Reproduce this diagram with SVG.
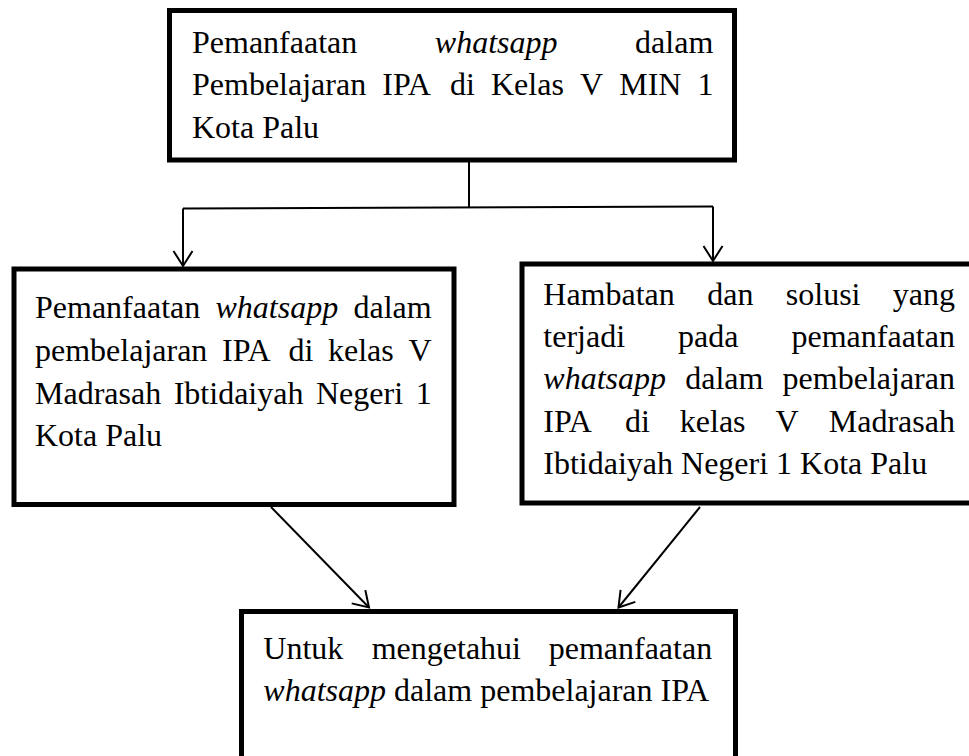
<svg xmlns="http://www.w3.org/2000/svg" width="969" height="756" viewBox="0 0 969 756">
<style>
.box{fill:#fff;stroke:#000;stroke-width:5}
.t{font-family:"Liberation Serif","Times New Roman",serif;font-size:32px;fill:#000}
.i{font-style:italic}
.c{fill:none;stroke:#000;stroke-width:2}
</style>
<defs>
<marker id="arr" markerUnits="userSpaceOnUse" markerWidth="40" markerHeight="40" viewBox="-20 -20 40 40" refX="0" refY="0" orient="auto">
<path d="M-15,-9.5 L0,0 L-15,9.5" fill="none" stroke="#000" stroke-width="2"/>
</marker>
</defs>
<rect width="969" height="756" fill="#fff"/>
<g id="connectors">
<path class="c" d="M469,162 L469,207.5"/>
<path class="c" d="M183,208.5 L713,206.5"/>
<path class="c" d="M183,208.5 L183,266" marker-end="url(#arr)"/>
<path class="c" d="M713,206.5 L713,261" marker-end="url(#arr)"/>
<path class="c" d="M271,507 L369,607.5" marker-end="url(#arr)"/>
<path class="c" d="M700,507 L618.5,607.5" marker-end="url(#arr)"/>
</g>
<g id="node-top">
<rect class="box" x="169.5" y="10.5" width="565" height="149.5"/>
<text class="t" y="52.5"><tspan x="192">Pemanfaatan</tspan><tspan x="434.8" class="i">whatsapp</tspan><tspan x="635.1">dalam</tspan></text>
<text class="t" y="95"><tspan x="192">Pembelajaran</tspan><tspan x="382.3">IPA</tspan><tspan x="450">di</tspan><tspan x="491">Kelas</tspan><tspan x="580">V</tspan><tspan x="619.2">MIN</tspan><tspan x="697.5">1</tspan></text>
<text class="t" x="192" y="137.5">Kota Palu</text>
</g>
<g id="node-left">
<rect class="box" x="14" y="269" width="440" height="235.5"/>
<text class="t" y="318"><tspan x="35">Pemanfaatan</tspan><tspan x="215.5" class="i">whatsapp</tspan><tspan x="353.5">dalam</tspan></text>
<text class="t" y="360.8"><tspan x="35">pembelajaran</tspan><tspan x="222.1">IPA</tspan><tspan x="288.4">di</tspan><tspan x="328">kelas</tspan><tspan x="408.6">V</tspan></text>
<text class="t" y="403.6"><tspan x="35">Madrasah</tspan><tspan x="173.7">Ibtidaiyah</tspan><tspan x="316">Negeri</tspan><tspan x="415.7">1</tspan></text>
<text class="t" x="35" y="446.4">Kota Palu</text>
</g>
<g id="node-right">
<rect class="box" x="522" y="264" width="460" height="239"/>
<text class="t" y="304.5"><tspan x="543.3">Hambatan</tspan><tspan x="707.2">dan</tspan><tspan x="785.8">solusi</tspan><tspan x="892.8">yang</tspan></text>
<text class="t" y="346.9"><tspan x="543.3">terjadi</tspan><tspan x="678.1">pada</tspan><tspan x="791.5">pemanfaatan</tspan></text>
<text class="t" y="389.3"><tspan x="543.3" class="i">whatsapp</tspan><tspan x="685.2">dalam</tspan><tspan x="782.6">pembelajaran</tspan></text>
<text class="t" y="431.7"><tspan x="543.3">IPA</tspan><tspan x="624.9">di</tspan><tspan x="679.8">kelas</tspan><tspan x="775.6">V</tspan><tspan x="828.8">Madrasah</tspan></text>
<text class="t" x="543.3" y="474.1">Ibtidaiyah Negeri 1 Kota Palu</text>
</g>
<g id="node-bottom">
<rect class="box" x="241.5" y="611.5" width="494" height="170"/>
<text class="t" y="659"><tspan x="263.3">Untuk</tspan><tspan x="371.7">mengetahui</tspan><tspan x="548.7">pemanfaatan</tspan></text>
<text class="t" y="701"><tspan x="263.3" class="i">whatsapp</tspan><tspan x="386"> dalam pembelajaran IPA</tspan></text>
</g>
</svg>
